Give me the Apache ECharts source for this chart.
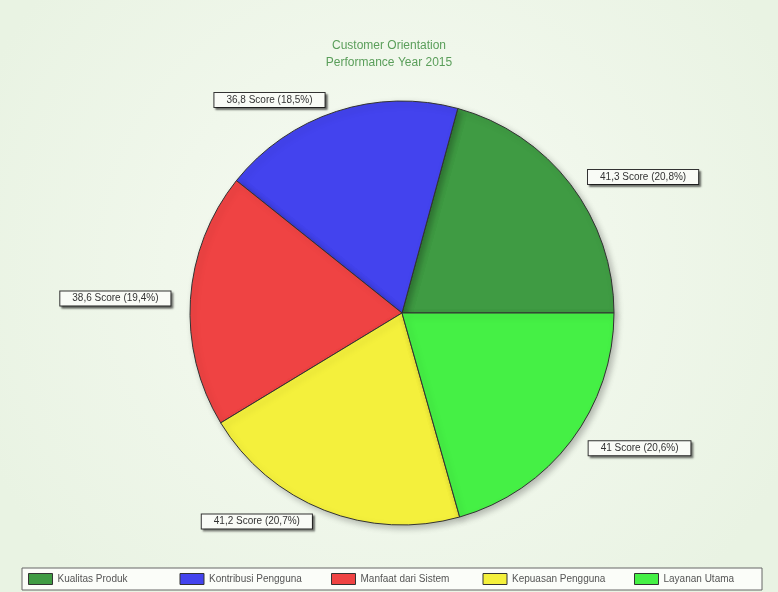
<!DOCTYPE html>
<html>
<head>
<meta charset="utf-8">
<script src="https://cdn.jsdelivr.net/npm/echarts@6/dist/echarts.min.js"></script>
<style>
  html, body { margin: 0; padding: 0; }
  #chart { width: 778px; height: 592px; }
</style>
</head>
<body>
<div id="chart"></div>
<script>
// Customer orientation scores per aspect, 2015
const categories = ['Kualitas Produk', 'Kontribusi Pengguna', 'Manfaat dari Sistem', 'Kepuasan Pengguna', 'Layanan Utama'];
const scores = [41.3, 36.8, 38.6, 41.2, 41.0];
const sliceColors = ['#3f9b43', '#4343ee', '#ef4343', '#f4f03c', '#45f045'];
const titleLines = ['Customer Orientation', 'Performance Year 2015'];

const total = scores.reduce((a, b) => a + b, 0);
const fmt = v => String(v).replace('.', ',');

// legend strip: one cell per category, evenly spaced
const stripLeft = 22, stripWidth = 740, stripTop = 568, stripHeight = 22;
const cellWidth = 151.5;
const legends = categories.map((name, i) => ({
  left: stripLeft + 3 + i * cellWidth,
  top: stripTop + 2,
  padding: 3,
  itemWidth: 24,
  itemHeight: 11,
  icon: 'rect',
  selectedMode: false,
  textStyle: { fontFamily: 'Liberation Sans', fontSize: 10, color: '#555' },
  itemStyle: { borderColor: '#333', borderWidth: 1 },
  data: [name]
}));

const chart = echarts.init(document.getElementById('chart'));
chart.setOption({
  backgroundColor: {
    type: 'radial', x: 0.5, y: 0.45, r: 0.75,
    colorStops: [
      { offset: 0, color: '#f7fbf3' },
      { offset: 1, color: '#e9f3e3' }
    ]
  },
  title: {
    text: titleLines.join('\n'),
    left: 'center',
    top: 32,
    textStyle: {
      fontFamily: 'Liberation Sans',
      fontSize: 12,
      fontWeight: 'normal',
      color: '#5a9e5a',
      lineHeight: 17
    }
  },
  graphic: [{
    type: 'rect',
    silent: true,
    z: -1,
    shape: { x: stripLeft, y: stripTop, width: stripWidth, height: stripHeight },
    style: { fill: '#fbfdf9', stroke: '#666', lineWidth: 1 }
  }],
  legend: legends,
  series: [{
    type: 'pie',
    center: [402, 313],
    radius: 212,
    startAngle: 0,
    clockwise: false,
    avoidLabelOverlap: false,
    silent: true,
    itemStyle: {
      borderColor: '#333',
      borderWidth: 1,
      shadowColor: 'rgba(0,0,0,0.25)',
      shadowBlur: 6,
      shadowOffsetX: 3,
      shadowOffsetY: 3
    },
    label: {
      position: 'outside',
      formatter: p => fmt(p.value) + ' Score (' + fmt((p.value / total * 100).toFixed(1)) + '%)',
      fontFamily: 'Liberation Sans',
      fontSize: 10,
      color: '#333',
      backgroundColor: '#f9fbf6',
      borderColor: '#333',
      borderWidth: 1,
      padding: [2, 12],
      shadowColor: 'rgba(0,0,0,0.45)',
      shadowOffsetX: 2,
      shadowOffsetY: 2,
      shadowBlur: 2
    },
    labelLine: { show: false, length: 12, length2: 3 },
    data: categories.map((name, i) => ({
      name: name,
      value: scores[i],
      itemStyle: { color: sliceColors[i] }
    }))
  }]
});
</script>
</body>
</html>
